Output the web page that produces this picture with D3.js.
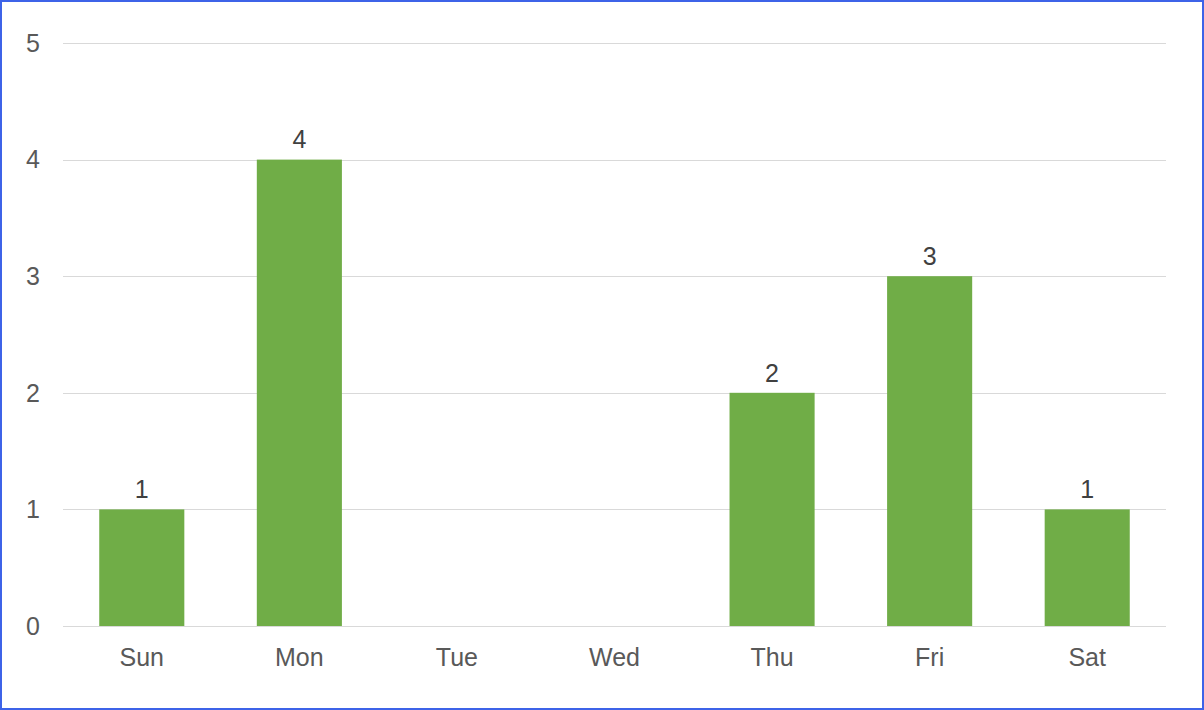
<!DOCTYPE html>
<html>
<head>
<meta charset="utf-8">
<script src="https://cdn.jsdelivr.net/npm/d3@7"></script>
<style>
  html, body { margin: 0; padding: 0; background: #fff; }
  svg { display: block; font-family: "Liberation Sans", Arial, sans-serif; }
</style>
</head>
<body>
<svg id="chart"></svg>
<script>
// days of the week and counts
var days = ["Sun", "Mon", "Tue", "Wed", "Thu", "Fri", "Sat"];
var counts = [1, 4, null, null, 2, 3, 1];
var yTicks = [0, 1, 2, 3, 4, 5];

var width = 1204, height = 710;
var margin = { top: 43, right: 38, bottom: 84, left: 63 };

var svg = d3.select("#chart")
            .attr("width", width)
            .attr("height", height);

// outer blue frame
svg.append("rect")
    .attr("x", 1).attr("y", 1)
    .attr("width", width - 2).attr("height", height - 2)
    .attr("fill", "#fff")
    .attr("stroke", "#3d63e8")
    .attr("stroke-width", 2);

var x = d3.scaleBand()
          .domain(days)
          .range([margin.left, width - margin.right])
          .paddingInner(0.46)
          .paddingOuter(0.23);

var y = d3.scaleLinear()
          .domain([0, 5])
          .range([height - margin.bottom, margin.top]);

// gridlines
svg.append("g")
    .selectAll("line")
    .data(yTicks)
    .enter()
    .append("line")
    .attr("x1", margin.left)
    .attr("x2", width - margin.right)
    .attr("y1", d => Math.round(y(d)) + 0.5)
    .attr("y2", d => Math.round(y(d)) + 0.5)
    .attr("stroke", "#d9d9d9")
    .attr("stroke-width", 1);

// y tick labels
svg.append("g")
    .selectAll("text")
    .data(yTicks)
    .enter()
    .append("text")
    .attr("x", 40)
    .attr("y", d => y(d))
    .attr("dy", "0.35em")
    .attr("text-anchor", "end")
    .attr("font-size", "25px")
    .attr("fill", "#595959")
    .text(d => d);

// x labels
svg.append("g")
    .selectAll("text")
    .data(days)
    .enter()
    .append("text")
    .attr("x", d => x(d) + x.bandwidth() / 2)
    .attr("y", 657)
    .attr("dy", "0.35em")
    .attr("text-anchor", "middle")
    .attr("font-size", "25px")
    .attr("fill", "#595959")
    .text(d => d);

var data = days.map((d, i) => ({ day: d, value: counts[i] }))
               .filter(d => d.value != null);

// bars
svg.append("g")
    .selectAll("rect")
    .data(data)
    .enter()
    .append("rect")
    .attr("x", d => x(d.day))
    .attr("y", d => y(d.value))
    .attr("width", x.bandwidth())
    .attr("height", d => y(0) - y(d.value))
    .attr("fill", "#70ad47");

// value labels
svg.append("g")
    .selectAll("text")
    .data(data)
    .enter()
    .append("text")
    .attr("x", d => x(d.day) + x.bandwidth() / 2)
    .attr("y", d => y(d.value) - 20)
    .attr("dy", "0.35em")
    .attr("text-anchor", "middle")
    .attr("font-size", "25px")
    .attr("fill", "#404040")
    .text(d => d.value);
</script>
</body>
</html>
